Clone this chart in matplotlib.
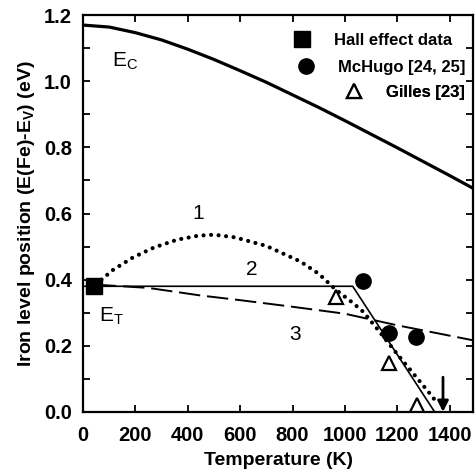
import matplotlib
matplotlib.use("Agg")
import matplotlib.pyplot as plt
from matplotlib.lines import Line2D

plt.rcParams['font.family'] = ['Liberation Sans', 'DejaVu Sans']
plt.rcParams['mathtext.fontset'] = 'custom'
plt.rcParams['mathtext.rm'] = 'Liberation Sans'
plt.rcParams['mathtext.bf'] = 'Liberation Sans:bold'
plt.rcParams['mathtext.it'] = 'Liberation Sans:italic'

# conduction band edge E_C (eV)
T_ec = [0, 100, 200, 300, 400, 500, 600, 700, 800, 900, 1000, 1100, 1200, 1300, 1400, 1500]
E_ec = [1.170, 1.164, 1.147, 1.125, 1.097, 1.066, 1.032, 0.997, 0.959, 0.921,
        0.881, 0.840, 0.799, 0.757, 0.715, 0.672]

# curve 1 (dotted)
T_1 = [70, 115, 190, 270, 360, 440, 500, 580, 700, 830, 900, 965, 1030, 1070,
       1130, 1200, 1270, 1320, 1355]
E_1 = [0.400, 0.430, 0.467, 0.497, 0.521, 0.533, 0.536, 0.528, 0.502, 0.455,
       0.418, 0.370, 0.330, 0.303, 0.245, 0.175, 0.108, 0.060, 0.025]

# curve 2 (solid)
T_2 = [0, 1030, 1343]
E_2 = [0.380, 0.380, 0.0]

# curve 3 (dashed)
T_3 = [45, 250, 450, 600, 800, 1000, 1200, 1500]
E_3 = [0.385, 0.375, 0.352, 0.338, 0.318, 0.297, 0.262, 0.215]

# data points
hall_T = [40]
hall_E = [0.380]
mchugo_T = [1068, 1168, 1270]
mchugo_E = [0.397, 0.239, 0.227]
gilles_T = [965, 1168, 1274]
gilles_E = [0.348, 0.148, 0.021]

arrow_T = 1375
arrow_E = (0.105, 0.0)

fig = plt.figure(figsize=(4.75, 4.74), dpi=100)
ax = fig.add_axes([0.175, 0.131, 0.821, 0.837])

ax.plot(T_ec, E_ec, color='black', lw=2.3, solid_capstyle='butt')
ax.plot(T_1, E_1, color='black', lw=3.0, linestyle=(0, (0.01, 1.8)),
        dash_capstyle='round')
ax.plot(T_2, E_2, color='black', lw=1.2)
ax.plot(T_3, E_3, color='black', lw=1.4, linestyle=(0, (11, 3.5)))

ax.plot(hall_T, hall_E, 's', color='black', ms=11, zorder=5)
ax.plot(mchugo_T, mchugo_E, 'o', color='black', ms=11, zorder=5)
ax.plot(gilles_T, gilles_E, '^', mfc='white', mec='black', mew=1.6, ms=10, zorder=5)

ax.annotate('', xy=(arrow_T, arrow_E[1]), xytext=(arrow_T, arrow_E[0]),
            arrowprops=dict(arrowstyle='-|>', color='black', lw=2.0,
                            mutation_scale=16, shrinkA=0, shrinkB=0))

ax.text(110, 1.06, 'E$_\\mathrm{C}$', fontsize=15, va='center')
ax.text(60, 0.29, 'E$_\\mathrm{T}$', fontsize=15, va='center')
ax.text(440, 0.60, '1', fontsize=15, ha='center', va='center')
ax.text(645, 0.43, '2', fontsize=15, ha='center', va='center')
ax.text(810, 0.233, '3', fontsize=15, ha='center', va='center')

# legend rows (right aligned as in the original)
rows = [
    (Line2D([], [], marker='s', color='black', ls='none', ms=11), 'Hall effect data', 0.946, 0.937),
    (Line2D([], [], marker='o', color='black', ls='none', ms=11), 'McHugo [24, 25]', 0.979, 0.869),
    (Line2D([], [], marker='^', mfc='white', mec='black', mew=1.6, ls='none', ms=10), 'Gilles [23]', 0.979, 0.806),
]
for h, lab, x, y in rows:
    lg = ax.legend([h], [lab], loc='center right', bbox_to_anchor=(x, y),
                   frameon=False, borderpad=0, borderaxespad=0,
                   handlelength=1.0, handletextpad=1.4,
                   prop=dict(size=12, weight='bold'))
    ax.add_artist(lg)

ax.set_xlim(0, 1490)
ax.set_ylim(0, 1.2)
ax.set_xticks(range(0, 1401, 200))
ax.set_yticks([0.0, 0.2, 0.4, 0.6, 0.8, 1.0, 1.2])
ax.set_yticks([0.1, 0.3, 0.5, 0.7, 0.9, 1.1], minor=True)
ax.set_yticklabels(['0.0', '0.2', '0.4', '0.6', '0.8', '1.0', '1.2'])
ax.tick_params(which='both', direction='in', top=True, right=True,
               labelsize=14.5, width=1.3)
ax.tick_params(axis='x', pad=10)
ax.tick_params(axis='y', pad=8)
ax.tick_params(which='major', length=5)
ax.tick_params(which='minor', length=5)
for lbl in ax.get_xticklabels() + ax.get_yticklabels():
    lbl.set_fontweight('bold')
for s in ax.spines.values():
    s.set_linewidth(1.6)

ax.set_xlabel('Temperature (K)', fontsize=14, fontweight='bold', labelpad=5)
ax.set_ylabel('Iron level position (E(Fe)-E$_\\mathbf{V}$) (eV)',
              fontsize=14, fontweight='bold', labelpad=5)

fig.savefig('out.png', dpi=100)
